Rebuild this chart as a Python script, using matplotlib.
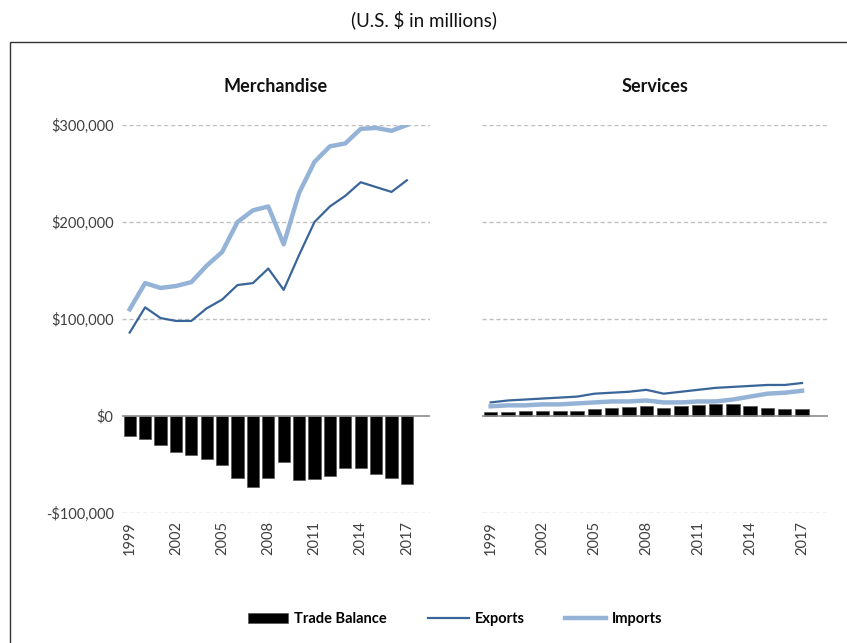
import matplotlib

matplotlib.use('Agg')
import matplotlib.pyplot as plt
from matplotlib.patches import Rectangle
from matplotlib.ticker import FuncFormatter

plt.rcParams['font.family'] = ['Lato', 'DejaVu Sans']

years = list(range(1999, 2018))

# merchandise trade, US$ millions
merch_exports = [86000, 112000, 101000, 98000, 98000, 111000, 120000, 135000, 137000, 152000,
                 130000, 166000, 200000, 216000, 227000, 241000, 236000, 231000, 243000]
merch_imports = [110000, 137000, 132000, 134000, 138000, 155000, 169000, 200000, 212000, 216000,
                 177000, 230000, 262000, 278000, 281000, 296000, 297000, 294000, 300000]
merch_balance = [-21000, -24000, -30000, -37000, -40000, -44000, -50000, -64000, -73000, -64000,
                 -47000, -66000, -65000, -62000, -54000, -54000, -60000, -64000, -70000]

# services trade, US$ millions
serv_exports = [14000, 16000, 17000, 18000, 19000, 20000, 23000, 24000, 25000, 27000,
                23000, 25000, 27000, 29000, 30000, 31000, 32000, 32000, 34000]
serv_imports = [10000, 11000, 11000, 12000, 12000, 13000, 14000, 15000, 15000, 16000,
                14000, 14000, 15000, 15000, 17000, 20000, 23000, 24000, 26000]
serv_balance = [4000, 4000, 5000, 5000, 5000, 5000, 7000, 8000, 9000, 10000,
                8000, 10000, 11000, 12000, 12000, 10000, 8000, 7000, 7000]

panels = [
    ('Merchandise', merch_exports, merch_imports, merch_balance),
    ('Services', serv_exports, serv_imports, serv_balance),
]

EXPORT_COLOR = '#3a6598'
IMPORT_COLOR = '#95b3d7'
TEXT_COLOR = '#404040'

fig = plt.figure(figsize=(8.47, 6.43), dpi=100)

# outer frame around both panels
fig.patches.append(Rectangle((10 / 847, -0.05), 1.0, 1 - 42 / 643 + 0.05,
                             transform=fig.transFigure, fill=False,
                             edgecolor='#333333', linewidth=1.0, zorder=0))

fig.text(0.5, 1 - 20 / 643, '(U.S. $ in millions)', ha='center', va='center',
         fontsize=13.5, color='#111111')

bottom = 1 - 513 / 643
height = (513 - 125) / 643
ax_left = fig.add_axes([122 / 847, bottom, (430 - 122) / 847, height])
ax_right = fig.add_axes([482 / 847, bottom, (828 - 482) / 847, height])

x = list(range(len(years)))
handles = None
for ax, (title, exports, imports, balance) in zip([ax_left, ax_right], panels):
    bars = ax.bar(x, balance, width=0.78, color='black', edgecolor='#555555',
                  linewidth=0.5, zorder=3, label='Trade Balance')
    l1, = ax.plot(x, exports, color=EXPORT_COLOR, linewidth=1.6, zorder=4, label='Exports')
    l2, = ax.plot(x, imports, color=IMPORT_COLOR, linewidth=3.2, zorder=4, label='Imports')
    handles = [bars, l1, l2]

    ax.set_xlim(-0.5, 19.5)
    ax.set_ylim(-100000, 300000)
    ax.set_yticks([-100000, 0, 100000, 200000, 300000])
    for v in [-100000, 100000, 200000, 300000]:
        ax.axhline(v, color='#c0c0c0', linestyle=(0, (3, 2)), linewidth=1.0, zorder=1)
    ax.axhline(0, color='#8c8c8c', linewidth=1.2, zorder=5)

    for s in ax.spines.values():
        s.set_visible(False)
    ax.set_xticks(x[::3])
    ax.set_xticklabels([str(y) for y in years[::3]], rotation=90, fontsize=10.5,
                       color=TEXT_COLOR)
    ax.tick_params(length=0, pad=6)
    ax.set_title(title, fontsize=13, fontweight='bold', color='#111111', pad=24)

ax_left.yaxis.set_major_formatter(
    FuncFormatter(lambda v, _: f'${v:,.0f}' if v >= 0 else f'-${-v:,.0f}'))
for lbl in ax_left.get_yticklabels():
    lbl.set_fontsize(10.5)
    lbl.set_color(TEXT_COLOR)
ax_right.set_yticklabels([])

fig.legend(handles, ['Trade Balance', 'Exports', 'Imports'], loc='center',
           bbox_to_anchor=(455 / 847, 1 - 619 / 643), ncol=3, frameon=False,
           prop={'weight': 'bold', 'size': 10.5}, handlelength=2.8,
           columnspacing=2.8, handletextpad=0.4)

fig.savefig('out.png', dpi=100)
